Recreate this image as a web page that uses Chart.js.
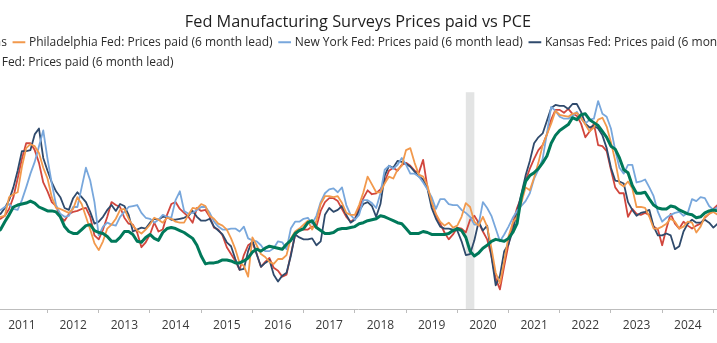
<!DOCTYPE html>
<html>
<head>
<meta charset="utf-8">
<script src="https://cdn.jsdelivr.net/npm/chart.js@4.4.1/dist/chart.umd.min.js"></script>
<style>
  html, body { margin: 0; padding: 0; background: #fff; overflow: hidden; }
  #wrap { position: absolute; left: -80px; top: 0; width: 876px; height: 343px; }
</style>
</head>
<body>
<div id="wrap"><canvas id="pricesChart"></canvas></div>
<script>
// Monthly series, first value is January 2011
const startYear = 2011;

// PCE, % (right axis)
const pce = [
  1.70, 1.85, 2.25, 2.6, 3.0, 3.1, 3.15, 3.2, 3.3, 3.2,
  3.0, 2.9, 2.8, 2.8, 2.75, 2.5, 2.0, 1.75, 1.65, 1.65,
  1.85, 2.05, 2.1, 1.8, 1.7, 1.65, 1.5, 1.25, 1.25, 1.45,
  1.75, 1.75, 1.6, 1.25, 1.2, 1.45, 1.6, 1.4, 1.3, 1.7,
  1.9, 1.95, 1.9, 1.8, 1.7, 1.55, 1.4, 1.05, 0.5, 0.1,
  0.15, 0.15, 0.2, 0.3, 0.3, 0.25, 0.15, 0.15, 0.25, 0.4,
  0.7, 0.85, 0.75, 0.9, 1.0, 0.95, 0.9, 0.85, 1.1, 1.3,
  1.65, 1.8, 1.9, 2.2, 2.3, 1.95, 1.8, 1.65, 1.65, 1.7,
  1.85, 1.9, 1.9, 1.95, 2.0, 2.15, 2.2, 2.3, 2.35, 2.4,
  2.55, 2.5, 2.4, 2.3, 2.2, 2.15, 1.9, 1.65, 1.65, 1.65,
  1.75, 1.7, 1.6, 1.6, 1.6, 1.6, 1.65, 1.8, 1.9, 1.8,
  1.45, 0.75, 0.5, 0.65, 0.9, 1.05, 1.25, 1.35, 1.3, 1.25,
  1.4, 1.7, 2.15, 3.5, 4.3, 4.6, 4.75, 4.95, 5.25, 5.6,
  6.25, 6.65, 6.9, 7.05, 7.2, 7.55, 7.45, 7.7, 7.75, 7.45,
  7.3, 7.15, 6.85, 6.55, 6.1, 5.95, 5.5, 4.9, 4.75, 4.1,
  3.7, 3.7, 3.75, 3.4, 3.1, 2.95, 2.9, 2.9, 3.05, 3.0,
  2.85, 2.75, 2.65, 2.6, 2.45, 2.5, 2.7, 2.8, 2.85, 2.8
];

// Prices paid indexes, shifted forward 6 months
const philly = [
  29, 30, 30.5, 40, 41.5, 42.5, 55.5, 65, 67, 66,
  62.5, 55, 49.5, 40, 34.5, 34, 33, 32, 34, 40,
  36.5, 30, 23.5, 16.5, 13, 17.5, 24, 26, 29, 33.5,
  34, 29, 25.5, 23, 21.5, 23.5, 26, 29.5, 28.5, 27,
  29.5, 29, 27.5, 27, 27, 31, 34.5, 34, 36.5, 35.5,
  30.5, 29, 26.5, 25.5, 23.5, 19, 13.5, 6.5, 5, -0.5,
  19.5, 15.5, 11, 9.5, 7, 6, 8.5, 8.5, 10.5, 19,
  22.5, 24, 26, 28, 23.5, 28, 36.5, 40.5, 40.5, 40,
  40.5, 37, 32, 31, 31, 36, 42.5, 50.5, 46.5, 42.5,
  42.5, 47, 50.5, 49.5, 54, 56, 64, 65, 57.5, 51.5,
  50.5, 46, 37.5, 31.5, 27.5, 25.5, 27, 24.5, 25.5, 30,
  37, 35, 27.5, 25.5, 30, 25, 14, 1.5, -4, 7.5,
  20, 27, 30, 37, 45, 43.5, 50, 57.5, 66.5, 72,
  77.5, 84, 82, 81.5, 81, 82.5, 83, 80.5, 77, 73.5,
  75.5, 79.5, 80.5, 76, 68, 58.5, 47, 45.5, 48, 44.5,
  35, 35, 34.5, 30, 24, 24, 25, 26.5, 29, 27.5,
  24, 25, 27.5, 27, 22, 25, 30, 31.5, 32.5, 31
];

const newYork = [
  32.5, 33.5, 35, 36.5, 34, 33.5, 38.5, 45, 52, 58,
  66, 74, 59.5, 47, 36, 31.5, 30, 30.5, 35, 35,
  45, 55, 48.5, 37.5, 20.5, 25, 27, 26, 25.5, 30,
  32.5, 35, 35.5, 36, 32, 29.5, 29, 27, 28.5, 31,
  30, 29.5, 38.5, 43, 33, 31.5, 32, 33.5, 35, 35,
  32, 27.5, 25, 23.5, 23.5, 24, 24, 22.5, 25, 19,
  18, 17.5, 15.5, 12.5, 12.5, 14, 17.5, 17, 13.5, 24,
  27.5, 27.5, 29, 29.5, 26.5, 30.5, 37.5, 42, 44, 44.5,
  42.5, 45, 36, 31, 28.5, 31, 38.5, 38.5, 37, 34.5,
  42, 54, 56, 54.5, 56.5, 60, 56.5, 52, 52, 50.5,
  47.5, 44, 40, 34, 39, 39, 36.5, 36, 36, 33.5,
  32, 30, 26, 26, 37.5, 34.5, 30.5, 24, 17.5, 21,
  25, 29.5, 33, 35.5, 38, 42, 49.5, 54, 59.5, 72.5,
  86, 84, 81, 80, 80, 81.5, 83.5, 80, 77.5, 79.5,
  80, 89, 82.5, 81, 75, 64, 55, 52, 56.5, 56.5,
  47.5, 48, 49, 45, 40.5, 32.5, 27.5, 29.5, 31, 32,
  32.5, 30.5, 32, 39, 38, 40, 39.5, 35.5, 33.5, 35
];

const kansas = [
  30, 31.5, 34.5, 38.5, 45, 53.5, 63.5, 63.5, 64, 72,
  75, 60, 53.5, 47.5, 43, 40, 34.5, 33.5, 39.5, 42.5,
  40, 37.5, 32.5, 26.5, 27.5, 30, 33.5, 36, 33, 36.5,
  35.5, 31, 22.5, 23.5, 24.5, 24, 27, 29, 28.5, 30,
  30, 28.5, 28.5, 29, 29.5, 30.5, 33, 30, 28, 28,
  29, 25, 23, 21, 17, 15, 8.5, 3, 3.5, 12.5,
  18, 11, 4.5, 6.5, 8, 0.5, -3, 0, 1.5, 10,
  21, 19.5, 18.5, 18.5, 19, 15.5, 17.5, 31, 34.5, 32.5,
  33.5, 35.5, 31, 27, 28.5, 33, 36.5, 37.5, 35.5, 30,
  36.5, 51, 56, 55, 58.5, 58, 57, 55.5, 53, 50.5,
  49, 44.5, 34.5, 29, 25, 24, 24, 23.5, 23, 17.5,
  10.5, 11, 18, 27.5, 23, 25.5, 10, -5, 0, 12.5,
  16, 23, 32.5, 41.5, 51, 58.5, 67.5, 70.5, 72.5, 79,
  85.5, 87, 86.5, 86.5, 85, 87.5, 87.5, 83.5, 77.5, 75.5,
  76.5, 75, 71.5, 65, 55, 48.5, 48, 47, 37.5, 33.5,
  30.5, 32, 32.5, 33.5, 25, 20.5, 20.5, 21.5, 20.5, 13.5,
  15, 22.5, 26.5, 28.5, 27, 27, 28.5, 27, 24.5, 26.5
];

const richmond = [
  28, 29, 30.5, 34, 40, 49.5, 59.5, 67.5, 67.5, 64,
  57.5, 47.5, 43, 37.5, 35.5, 30, 28, 31.5, 32.5, 33,
  34, 34.5, 30, 20.5, 18.5, 23.5, 30, 37.5, 36, 35,
  29.5, 26.5, 26, 22, 14.5, 17, 21, 27, 22.5, 23.5,
  31, 36.5, 37.5, 34, 32, 30, 27, 34.5, 33, 33.5,
  30, 24.5, 23.5, 20.5, 14.5, 11, 7.5, 3, 10.5, 15.5,
  17, 11, 4.5, 7, 9, 4, 2.5, -0.5, 0.5, 11,
  20.5, 23.5, 23.5, 23.5, 25, 25, 33, 37.5, 39.5, 39.5,
  38, 34, 30, 27.5, 29, 34.5, 39.5, 43.5, 41.5, 42,
  44, 48, 53.5, 55, 53.5, 56.5, 57.5, 56, 53.5, 52.5,
  59, 45, 37, 31, 26.5, 22, 18.5, 21, 24.5, 24,
  22, 28.5, 30.5, 27, 22.5, 18.5, 10, -1.5, -7, 5,
  16, 26.5, 34.5, 40, 48.5, 54.5, 59.5, 64, 66.5, 72,
  79.5, 84.5, 84.5, 83, 85, 82.5, 81.5, 77.5, 70.5, 73.5,
  77.5, 66.5, 66, 63.5, 54, 45, 42, 42, 30, 34,
  31.5, 31, 32, 31, 25, 23.5, 15.5, 24, 31.5, 26.5,
  24, 27.5, 25.5, 24, 25.5, 26.5, 29.5, 31.5, 34, 36
];

// US recession periods (decimal years)
const recessions = [[2020 + 2 / 12, 2020 + 4 / 12]];

const seriesLabels = [
  'PCE, 6m, ns',
  'Philadelphia Fed: Prices paid (6 month lead)',
  'New York Fed: Prices paid (6 month lead)',
  'Kansas Fed: Prices paid (6 month lead)',
  'Richmond Fed: Prices paid (6 month lead)'
];
const seriesColors = ['#00795a', '#f2994c', '#78a7dc', '#2f4a6c', '#d1463d'];

const fontFamily = "'Open Sans', 'Noto Sans', sans-serif";

// x axis: 51.22px per year, Jan 2011 sits 76.3px in from the canvas edge
const pxPerYear = 51.22;
const canvasWidth = 876;
const xMin = startYear - 76.3 / pxPerYear;
const xMax = xMin + canvasWidth / pxPerYear;

function toPoints(values) {
  return values.map((v, i) => ({ x: startYear + i / 12, y: v }));
}

// grey shading behind the lines
const recessionBands = {
  id: 'recessionBands',
  beforeDatasetsDraw(chart) {
    const { ctx, chartArea, scales } = chart;
    ctx.save();
    ctx.fillStyle = '#e3e4e4';
    recessions.forEach(([from, to]) => {
      const x0 = scales.x.getPixelForValue(from);
      const x1 = scales.x.getPixelForValue(to);
      ctx.fillRect(x0, chartArea.top, x1 - x0, chartArea.bottom - chartArea.top);
    });
    ctx.restore();
  }
};

const allSeries = [pce, philly, newYork, kansas, richmond];

const ctx = document.getElementById('pricesChart');
if (ctx) {
  new Chart(ctx, {
    type: 'line',
    data: {
      datasets: allSeries.map((values, i) => ({
        label: seriesLabels[i],
        data: toPoints(values),
        yAxisID: i === 0 ? 'y2' : 'y',
        borderColor: seriesColors[i],
        backgroundColor: seriesColors[i],
        borderWidth: i === 0 ? 3 : 1.8
      }))
    },
    options: {
      responsive: true,
      maintainAspectRatio: false,
      animation: false,
      events: [],
      layout: {
        padding: { top: 1, right: 0, bottom: 5.6, left: 0 }
      },
      elements: {
        point: { radius: 0 },
        line: { tension: 0, borderJoinStyle: 'round' }
      },
      plugins: {
        title: {
          display: true,
          text: 'Fed Manufacturing Surveys Prices paid vs PCE',
          color: '#1e1e1e',
          font: { family: fontFamily, size: 16.3, weight: 'normal', lineHeight: 0.75 },
          padding: { top: 15, bottom: 0 }
        },
        legend: {
          align: 'start',
          labels: {
            usePointStyle: true,
            pointStyle: 'line',
            boxWidth: 8,
            boxHeight: 9,
            padding: 8,
            color: '#2b2b2b',
            font: { family: fontFamily, size: 12 }
          }
        },
        tooltip: { enabled: false }
      },
      scales: {
        x: {
          type: 'linear',
          min: xMin,
          max: xMax,
          grid: { display: true, drawOnChartArea: false, tickLength: 4, color: '#bdbdbd' },
          border: { color: '#bdbdbd' },
          ticks: {
            stepSize: 1,
            maxTicksLimit: 30,
            includeBounds: false,
            autoSkip: false,
            maxRotation: 0,
            labelOffset: pxPerYear / 2,
            padding: 5,
            color: '#3a3a3a',
            font: { family: fontFamily, size: 12 },
            callback: (value) => String(value)
          }
        },
        // empty strip above the plot
        top: {
          type: 'linear',
          position: 'top',
          display: true,
          grid: { display: false },
          border: { display: false },
          ticks: { display: false },
          afterFit: (scale) => { scale.height = 14; }
        },
        y: { display: false, min: -17, max: 93.5 },
        y2: { display: false, min: -2.2, max: 8.85 }
      }
    },
    plugins: [recessionBands]
  });
}
</script>
</body>
</html>
